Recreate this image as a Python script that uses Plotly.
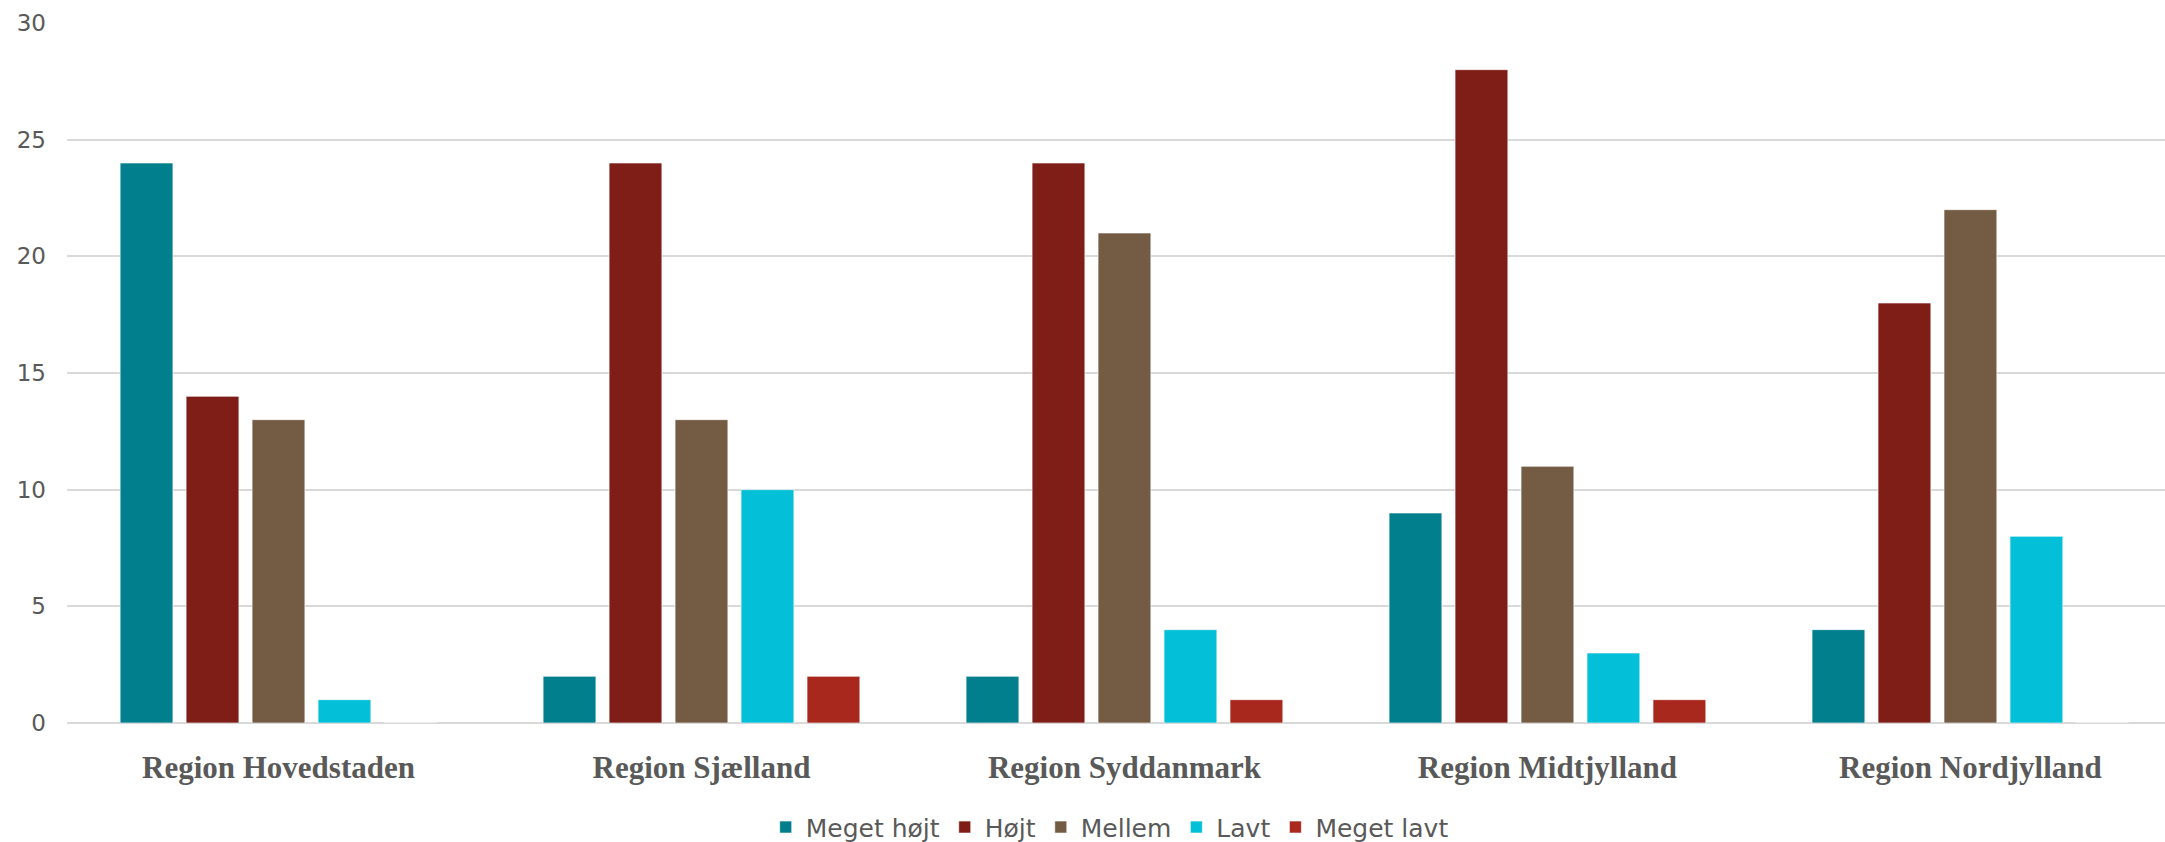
import plotly.graph_objects as go

regions = ["Region Hovedstaden", "Region Sjælland", "Region Syddanmark", "Region Midtjylland", "Region Nordjylland"]
series_names = ["Meget højt", "Højt", "Mellem", "Lavt", "Meget lavt"]
meget_hojt = [24, 2, 2, 9, 4]
hojt = [14, 24, 24, 28, 18]
mellem = [13, 13, 21, 11, 22]
lavt = [1, 10, 4, 3, 8]
meget_lavt = [0, 2, 1, 1, 0]
colors = ["#027f8c", "#7f1e17", "#735b44", "#03bfd8", "#a8281e"]
y_ticks = [0, 5, 10, 15, 20, 25, 30]

values = [meget_hojt, hojt, mellem, lavt, meget_lavt]

fig = go.Figure()
for name, vals, col in zip(series_names, values, colors):
    fig.add_trace(go.Bar(
        x=regions, y=vals, name=name,
        marker=dict(color=col, line=dict(color="rgba(255,255,255,0.6)", width=1)),
    ))

fig.update_layout(
    width=2165, height=842,
    paper_bgcolor="white", plot_bgcolor="white",
    margin=dict(l=67, r=0, t=23, b=119, autoexpand=False),
    barmode="group", bargap=0.22, bargroupgap=0.2,
    font=dict(family="DejaVu Sans, sans-serif", color="#595959"),
    showlegend=True,
    legend=dict(orientation="h", x=0.497, xanchor="center", y=-0.149, yanchor="middle",
                font=dict(size=25, color="#595959", family="DejaVu Sans, sans-serif"),
                itemwidth=30, traceorder="normal", tracegroupgap=0),
    xaxis=dict(
        showgrid=False, zeroline=False, showline=False, ticks="", automargin=False,
        ticklabelstandoff=23, range=[-0.5, 4.46],
        tickfont=dict(family="Liberation Serif, DejaVu Serif, serif", size=31, color="#595959", weight="bold"),
    ),
    yaxis=dict(
        range=[0, 30], tickvals=y_ticks, showgrid=True, gridcolor="#d9d9d9", gridwidth=2,
        zeroline=True, zerolinecolor="#d9d9d9", zerolinewidth=2, automargin=False,
        showline=False, ticks="", ticklabelstandoff=20,
        tickfont=dict(size=23, color="#595959", family="DejaVu Sans, sans-serif"),
    ),
)

fig.write_html("out.html", config={"displayModeBar": False},
               post_script="document.body.style.margin='0px';")
